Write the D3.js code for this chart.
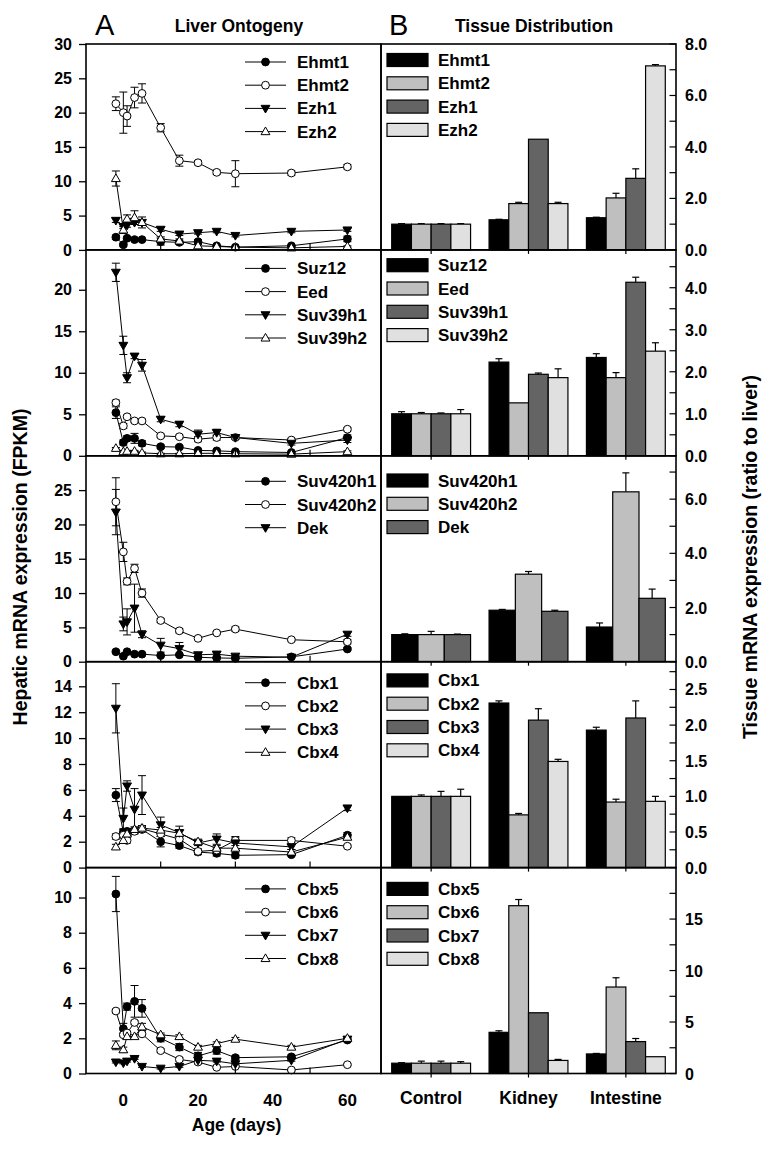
<!DOCTYPE html>
<html><head><meta charset="utf-8">
<script src="https://cdn.jsdelivr.net/npm/d3@7"></script>
<style>
body{margin:0;background:#fff;}
svg{display:block;font-family:"Liberation Sans",Arial,Helvetica,sans-serif;}
</style></head>
<body><svg id="c" width="773" height="1152"></svg>
<script>
// ---------------- DATA ----------------
const days = [-2, 0, 1, 3, 5, 10, 15, 20, 25, 30, 45, 60];
const dayTicks = [0, 20, 40, 60];
const dayMinorTicks = [10, 30, 50];
const tissues = ["Control", "Kidney", "Intestine"];

// Row 1
const ehmt1 = [1.85, 0.75, 1.7, 1.5, 1.5, 1.2, 1.1, 1.2, 0.6, 0.4, 0.6, 1.6];
const ehmt1Err = [0.3, 0.2, 0.2, 0.1, 0.1, 0.5, 0.2, 0.3, 0.1, 0.1, 0.1, 0.4];
const ehmt2 = [21.3, 20.0, 19.5, 22.2, 22.8, 17.8, 13.0, 12.7, 11.3, 11.1, 11.2, 12.1];
const ehmt2Err = [1.0, 3.0, 1.5, 1.5, 1.4, 0.6, 0.8, 0.3, 0.3, 1.9, 0.3, 0.3];
const ezh1 = [4.3, 3.4, 3.6, 4.0, 4.0, 3.0, 2.3, 2.5, 2.7, 2.1, 2.7, 2.9];
const ezh1Err = [0.3, 0.3, 0.3, 0.3, 0.3, 0.3, 0.2, 0.2, 0.2, 0.2, 0.2, 0.2];
const ezh2 = [10.4, 2.9, 4.5, 4.7, 4.0, 1.6, 1.3, 0.6, 0.5, 0.4, 0.3, 0.5];
const ezh2Err = [1.1, 0.5, 0.6, 1.0, 0.8, 0.3, 0.3, 0.2, 0.1, 0.1, 0.1, 0.1];
// Row 2
const suz12 = [5.2, 1.6, 2.1, 2.1, 1.5, 1.1, 1.05, 0.65, 0.6, 0.5, 0.4, 2.2];
const suz12Err = [0.7, 0.3, 0.3, 0.6, 0.3, 0.2, 0.2, 0.1, 0.1, 0.1, 0.1, 0.3];
const eed = [6.4, 3.6, 4.7, 4.2, 4.2, 2.4, 2.3, 2.0, 2.2, 2.2, 1.9, 3.2];
const eedErr = [0.3, 0.3, 0.2, 0.2, 0.2, 0.2, 0.2, 0.3, 0.3, 0.2, 0.2, 0.2];
const suv39h1 = [22.1, 13.3, 9.4, 12.0, 10.9, 4.4, 3.8, 2.6, 2.8, 2.2, 1.5, 1.9];
const suv39h1Err = [1.1, 1.1, 0.6, 0.3, 0.7, 0.3, 0.3, 0.5, 0.4, 0.2, 0.2, 0.3];
const suv39h2 = [0.9, 0.5, 0.55, 0.55, 0.35, 0.25, 0.25, 0.3, 0.3, 0.25, 0.2, 0.5];
const suv39h2Err = [0.1, 0.1, 0.1, 0.1, 0.1, 0.05, 0.05, 0.05, 0.05, 0.05, 0.05, 0.1];
// Row 3
const suv420h1 = [1.45, 0.8, 1.45, 1.1, 1.1, 0.9, 1.0, 0.65, 0.55, 0.5, 0.7, 1.85];
const suv420h1Err = [0.2, 0.1, 0.1, 0.1, 0.1, 0.1, 0.1, 0.1, 0.1, 0.1, 0.1, 0.2];
const suv420h2 = [23.3, 16.0, 11.7, 13.6, 10.0, 6.0, 4.5, 3.4, 4.2, 4.75, 3.2, 2.9];
const suv420h2Err = [3.5, 1.4, 0.5, 0.6, 0.6, 0.3, 0.3, 0.2, 0.2, 0.3, 0.2, 0.3];
const dek = [21.8, 5.5, 5.8, 7.8, 4.0, 2.4, 1.9, 1.0, 1.1, 0.8, 0.65, 4.0];
const dekErr = [3.3, 1.0, 1.9, 3.5, 0.5, 1.0, 0.9, 0.2, 0.3, 0.1, 0.1, 0.3];
// Row 4
const cbx1 = [5.6, 2.75, 2.8, 2.85, 2.95, 2.0, 1.7, 1.2, 1.1, 0.95, 1.0, 2.5];
const cbx1Err = [0.5, 0.2, 0.2, 0.2, 0.2, 0.4, 0.2, 0.2, 0.2, 0.2, 0.1, 0.2];
const cbx2 = [2.4, 2.5, 2.1, 2.8, 3.0, 2.6, 2.2, 1.25, 1.35, 2.1, 2.1, 1.65];
const cbx2Err = [0.2, 0.2, 0.2, 0.2, 0.2, 0.2, 0.2, 0.2, 0.2, 0.2, 0.2, 0.1];
const cbx3 = [12.3, 3.8, 6.3, 4.5, 5.6, 3.3, 2.7, 1.9, 2.2, 1.9, 1.6, 4.6];
const cbx3Err = [1.9, 0.8, 0.4, 1.6, 1.5, 0.6, 0.5, 0.2, 0.4, 0.5, 0.2, 0.2];
const cbx4 = [1.6, 2.1, 2.6, 2.95, 3.05, 2.9, 2.65, 2.0, 1.5, 1.5, 1.2, 2.35];
const cbx4Err = [0.2, 0.2, 0.2, 0.2, 0.2, 0.2, 0.2, 0.2, 0.2, 0.2, 0.2, 0.2];
// Row 5
const cbx5 = [10.2, 2.55, 3.8, 4.1, 3.7, 2.0, 1.5, 1.0, 1.3, 0.9, 0.95, 1.9];
const cbx5Err = [1.0, 0.3, 0.2, 0.9, 0.5, 0.2, 0.2, 0.2, 0.2, 0.1, 0.1, 0.1];
const cbx6 = [3.55, 2.2, 2.3, 2.9, 2.25, 1.3, 0.8, 0.65, 0.35, 0.4, 0.2, 0.5];
const cbx6Err = [0.1, 0.1, 0.1, 0.1, 0.1, 0.1, 0.1, 0.1, 0.05, 0.05, 0.05, 0.05];
const cbx7 = [0.65, 0.6, 0.7, 0.85, 0.4, 0.3, 0.4, 0.75, 0.7, 0.55, 0.75, 1.95];
const cbx7Err = [0.05, 0.05, 0.05, 0.05, 0.05, 0.05, 0.05, 0.05, 0.05, 0.05, 0.05, 0.05];
const cbx8 = [1.6, 1.35, 2.1, 2.1, 2.65, 2.2, 2.1, 1.5, 1.7, 1.95, 1.5, 2.0];
const cbx8Err = [0.25, 0.15, 0.1, 0.1, 0.2, 0.1, 0.1, 0.1, 0.1, 0.1, 0.1, 0.1];

// Tissue distribution (ratio to liver): [Control, Kidney, Intestine]
const tEhmt1 = [1.0, 1.17, 1.25], tEhmt1Err = [0.02, 0.02, 0.02];
const tEhmt2 = [1.0, 1.8, 2.02], tEhmt2Err = [0.02, 0.05, 0.18];
const tEzh1 = [1.0, 4.3, 2.78], tEzh1Err = [0.02, 0.0, 0.37];
const tEzh2 = [1.0, 1.8, 7.15], tEzh2Err = [0.02, 0.05, 0.05];
const tSuz12 = [1.0, 2.23, 2.34], tSuz12Err = [0.05, 0.08, 0.09];
const tEed = [1.0, 1.26, 1.86], tEedErr = [0.03, 0.0, 0.12];
const tSuv39h1 = [1.0, 1.94, 4.13], tSuv39h1Err = [0.02, 0.03, 0.12];
const tSuv39h2 = [1.0, 1.86, 2.49], tSuv39h2Err = [0.1, 0.21, 0.2];
const tSuv420h1 = [1.0, 1.9, 1.28], tSuv420h1Err = [0.03, 0.03, 0.15];
const tSuv420h2 = [1.0, 3.23, 6.27], tSuv420h2Err = [0.12, 0.1, 0.7];
const tDek = [1.0, 1.86, 2.34], tDekErr = [0.02, 0.04, 0.34];
const tCbx1 = [1.0, 2.31, 1.93], tCbx1Err = [0.0, 0.03, 0.04];
const tCbx2 = [1.0, 0.74, 0.92], tCbx2Err = [0.02, 0.02, 0.04];
const tCbx3 = [1.0, 2.07, 2.1], tCbx3Err = [0.07, 0.16, 0.24];
const tCbx4 = [1.0, 1.49, 0.93], tCbx4Err = [0.1, 0.03, 0.07];
const tCbx5 = [1.0, 4.0, 1.9], tCbx5Err = [0.05, 0.15, 0.05];
const tCbx6 = [1.0, 16.3, 8.4], tCbx6Err = [0.2, 0.6, 0.9];
const tCbx7 = [1.0, 5.9, 3.1], tCbx7Err = [0.2, 0.0, 0.3];
const tCbx8 = [1.0, 1.27, 1.63], tCbx8Err = [0.15, 0.1, 0.0];

// Axis tick values
const leftMax = [30, 24.8, 30, 15.9, 11.7];
const leftTicks = [[0,5,10,15,20,25,30],[0,5,10,15,20],[0,5,10,15,20,25],[0,2,4,6,8,10,12,14],[0,2,4,6,8,10]];
const rightMax = [8, 4.9, 7.6, 2.89, 20];
const rightTicks = [[0,2,4,6,8],[0,1,2,3,4],[0,2,4,6],[0,0.5,1,1.5,2,2.5],[0,5,10,15]];
const rightMinor = [[1,3,5,7],[0.5,1.5,2.5,3.5,4.5],[1,3,5,7],[0.25,0.75,1.25,1.75,2.25,2.75],[2.5,7.5,12.5,17.5]];
const rightFmt = [".1f",".1f",".1f",".1f","d"];

// ---------------- BUILD ----------------
const markers = ["filledCircle","openCircle","filledDown","openUp"];
const barFills = ["#000000","#bfbfbf","#646464","#e0e0e0"];
const rows = [
  {left:[["Ehmt1",ehmt1,ehmt1Err],["Ehmt2",ehmt2,ehmt2Err],["Ezh1",ezh1,ezh1Err],["Ezh2",ezh2,ezh2Err]],
   right:[["Ehmt1",tEhmt1,tEhmt1Err],["Ehmt2",tEhmt2,tEhmt2Err],["Ezh1",tEzh1,tEzh1Err],["Ezh2",tEzh2,tEzh2Err]]},
  {left:[["Suz12",suz12,suz12Err],["Eed",eed,eedErr],["Suv39h1",suv39h1,suv39h1Err],["Suv39h2",suv39h2,suv39h2Err]],
   right:[["Suz12",tSuz12,tSuz12Err],["Eed",tEed,tEedErr],["Suv39h1",tSuv39h1,tSuv39h1Err],["Suv39h2",tSuv39h2,tSuv39h2Err]]},
  {left:[["Suv420h1",suv420h1,suv420h1Err],["Suv420h2",suv420h2,suv420h2Err],["Dek",dek,dekErr]],
   right:[["Suv420h1",tSuv420h1,tSuv420h1Err],["Suv420h2",tSuv420h2,tSuv420h2Err],["Dek",tDek,tDekErr]]},
  {left:[["Cbx1",cbx1,cbx1Err],["Cbx2",cbx2,cbx2Err],["Cbx3",cbx3,cbx3Err],["Cbx4",cbx4,cbx4Err]],
   right:[["Cbx1",tCbx1,tCbx1Err],["Cbx2",tCbx2,tCbx2Err],["Cbx3",tCbx3,tCbx3Err],["Cbx4",tCbx4,tCbx4Err]]},
  {left:[["Cbx5",cbx5,cbx5Err],["Cbx6",cbx6,cbx6Err],["Cbx7",cbx7,cbx7Err],["Cbx8",cbx8,cbx8Err]],
   right:[["Cbx5",tCbx5,tCbx5Err],["Cbx6",tCbx6,tCbx6Err],["Cbx7",tCbx7,tCbx7Err],["Cbx8",tCbx8,tCbx8Err]]}
];
const legLeftOff = [18, 18.5, 25.5, 21, 21.3];
const legRightOff = [16, 15.3, 24.7, 18.7, 21.3];

const svg = d3.select("#c");
const L0 = 86, L1 = 381, R1 = 676;
const top0 = 44, rowH = 205.9;
const FONT_TICK = 16, FONT_LEG = 17;

const x = d3.scaleLinear().domain([-10, 69]).range([L0, L1]);
const xb = d3.scaleBand().domain(tissues).range([L1, R1]).paddingInner(0.19).paddingOuter(0.11);

function drawMarker(g, type, cx, cy) {
  if (type.endsWith("Circle")) {
    g.append("circle").attr("cx", cx).attr("cy", cy).attr("r", 3.9)
      .attr("fill", type === "filledCircle" ? "#000" : "#fff").attr("stroke", "#000").attr("stroke-width", 1);
  } else {
    const sym = d3.symbol().type(d3.symbolTriangle).size(34);
    g.append("path").attr("d", sym())
      .attr("transform", `translate(${cx},${cy + (type === "filledDown" ? -0.5 : 0.5)}) rotate(${type === "filledDown" ? 180 : 0})`)
      .attr("fill", type === "filledDown" ? "#000" : "#fff").attr("stroke", "#000").attr("stroke-width", 1);
  }
}

rows.forEach((row, ri) => {
  const top = top0 + ri * rowH, bot = top + rowH;
  const y = d3.scaleLinear().domain([0, leftMax[ri]]).range([bot, top]);
  const yr = d3.scaleLinear().domain([0, rightMax[ri]]).range([bot, top]);
  const g = svg.append("g");

  // ---- left: lines, errors, markers
  row.left.forEach((s, si) => {
    const pts = days.map((d, i) => ({d, v: s[1][i], e: s[2][i]}));
    g.append("path").datum(pts)
      .attr("d", d3.line().x(p => x(p.d)).y(p => y(p.v)))
      .attr("fill", "none").attr("stroke", "#000").attr("stroke-width", 1);
  });
  row.left.forEach((s, si) => {
    days.forEach((d, i) => {
      const v = s[1][i], e = s[2][i];
      if (e > 0) {
        const cx = x(d), y1 = y(v + e), y2 = y(Math.max(0, v - e));
        g.append("line").attr("x1", cx).attr("x2", cx).attr("y1", y1).attr("y2", y2).attr("stroke", "#000").attr("stroke-width", 1);
        [y1, y2].forEach(yy => g.append("line").attr("x1", cx - 4).attr("x2", cx + 4).attr("y1", yy).attr("y2", yy).attr("stroke", "#000").attr("stroke-width", 1));
      }
    });
  });
  row.left.forEach((s, si) => {
    days.forEach((d, i) => drawMarker(g, markers[si], x(d), y(s[1][i])));
  });

  // left legend
  row.left.forEach((s, si) => {
    const ly = top + legLeftOff[ri] + si * 23.2;
    g.append("line").attr("x1", 245).attr("x2", 286).attr("y1", ly).attr("y2", ly).attr("stroke", "#000").attr("stroke-width", 1);
    drawMarker(g, markers[si], 265.5, ly);
    g.append("text").attr("x", 297).attr("y", ly + 6).attr("font-size", FONT_LEG).attr("font-weight", "bold").text(s[0]);
  });

  // left y axis
  const ya = d3.axisLeft(y).tickValues(leftTicks[ri]).tickSize(7).tickPadding(7).tickFormat(d3.format("d"));
  const yag = svg.append("g").attr("transform", `translate(${L0},0)`).call(ya);
  yag.select(".domain").remove();
  yag.selectAll("line").attr("stroke-width", 1.3);
  yag.selectAll("text").attr("font-size", FONT_TICK).attr("font-weight", "bold").attr("font-family", "Liberation Sans, Arial, sans-serif").attr("fill", "#000");

  // left minor x ticks (inward)
  dayMinorTicks.forEach(d => g.append("line").attr("x1", x(d)).attr("x2", x(d)).attr("y1", bot).attr("y2", bot - 6).attr("stroke", "#000").attr("stroke-width", 1.2));

  // ---- right: bars
  const genes = row.right.map(s => s[0]);
  const xs = d3.scaleBand().domain(genes).range([0, xb.bandwidth()]).padding(0);
  row.right.forEach((s, si) => {
    tissues.forEach((t, ti) => {
      const v = s[1][ti], e = s[2][ti];
      const bx = xb(t) + xs(s[0]);
      const cx = bx + xs.bandwidth() / 2;
      if (e > 0) {
        g.append("line").attr("x1", cx).attr("x2", cx).attr("y1", yr(v)).attr("y2", yr(v + e)).attr("stroke", "#000").attr("stroke-width", 1.2);
        g.append("line").attr("x1", cx - 3.5).attr("x2", cx + 3.5).attr("y1", yr(v + e)).attr("y2", yr(v + e)).attr("stroke", "#000").attr("stroke-width", 1.2);
      }
      g.append("rect").attr("x", bx).attr("y", yr(v)).attr("width", xs.bandwidth()).attr("height", bot - yr(v))
        .attr("fill", barFills[si]).attr("stroke", "#000").attr("stroke-width", 1.2);
    });
  });
  // right legend
  row.right.forEach((s, si) => {
    const ly = top + legRightOff[ri] + si * 23.3;
    g.append("rect").attr("x", 387).attr("y", ly - 6.5).attr("width", 41).attr("height", 13)
      .attr("fill", barFills[si]).attr("stroke", "#000").attr("stroke-width", 1.2);
    g.append("text").attr("x", 438).attr("y", ly + 6).attr("font-size", FONT_LEG).attr("font-weight", "bold").text(s[0]);
  });

  // right y axis (ticks inward)
  const allR = rightTicks[ri].concat(rightMinor[ri]);
  allR.forEach(v => g.append("line").attr("x1", R1).attr("x2", R1 - 6.5).attr("y1", yr(v)).attr("y2", yr(v)).attr("stroke", "#000").attr("stroke-width", 1.2));
  const fmt = d3.format(rightFmt[ri]);
  rightTicks[ri].forEach(v => g.append("text").attr("x", 685).attr("y", yr(v) + 6).attr("font-size", FONT_TICK).attr("font-weight", "bold").text(fmt(v)));

  // tissue ticks (outward)
  tissues.forEach(t => {
    const cx = xb(t) + xb.bandwidth() / 2;
    g.append("line").attr("x1", cx).attr("x2", cx).attr("y1", bot).attr("y2", bot + 4).attr("stroke", "#000").attr("stroke-width", 1.2);
  });

  // frames
  g.append("rect").attr("x", L0).attr("y", top).attr("width", L1 - L0).attr("height", rowH).attr("fill", "none").attr("stroke", "#000").attr("stroke-width", 1.6);
  g.append("rect").attr("x", L1).attr("y", top).attr("width", R1 - L1).attr("height", rowH).attr("fill", "none").attr("stroke", "#000").attr("stroke-width", 1.6);

  // bottom row labels
  if (ri === rows.length - 1) {
    dayTicks.forEach(d => g.append("text").attr("x", x(d)).attr("y", bot + 32).attr("text-anchor", "middle")
      .attr("font-size", 17).attr("font-weight", "bold").text(d));
    tissues.forEach(t => g.append("text").attr("x", xb(t) + xb.bandwidth() / 2).attr("y", bot + 30).attr("text-anchor", "middle")
      .attr("font-size", 17.5).attr("font-weight", "bold").text(t));
    g.append("text").attr("x", 236.5).attr("y", bot + 57).attr("text-anchor", "middle").attr("font-size", 17.5).attr("font-weight", "bold").text("Age (days)");
  }
});

// titles
svg.append("text").attr("x", 95).attr("y", 35).attr("font-size", 29).text("A");
svg.append("text").attr("x", 389).attr("y", 35).attr("font-size", 29).text("B");
svg.append("text").attr("x", 239).attr("y", 32).attr("text-anchor", "middle").attr("font-size", 17.5).attr("font-weight", "bold").text("Liver Ontogeny");
svg.append("text").attr("x", 534).attr("y", 32).attr("text-anchor", "middle").attr("font-size", 17.5).attr("font-weight", "bold").text("Tissue Distribution");
// axis titles
svg.append("text").attr("transform", "translate(27,567) rotate(-90)").attr("text-anchor", "middle").attr("font-size", 19.5).attr("font-weight", "bold").text("Hepatic mRNA expression (FPKM)");
svg.append("text").attr("transform", "translate(757,557) rotate(-90)").attr("text-anchor", "middle").attr("font-size", 19.5).attr("font-weight", "bold").text("Tissue mRNA expression (ratio to liver)");
</script></body></html>
